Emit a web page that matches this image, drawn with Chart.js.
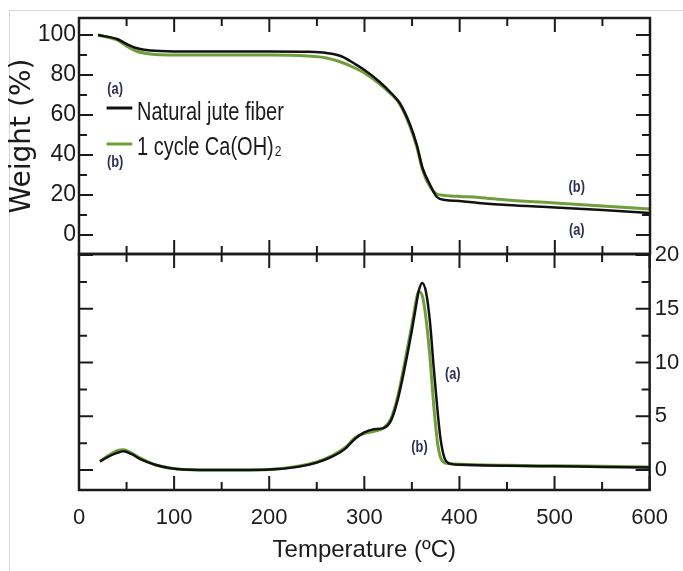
<!DOCTYPE html>
<html>
<head>
<meta charset="utf-8">
<title>TG / DTG of jute fiber</title>
<script src="https://cdn.jsdelivr.net/npm/chart.js@4.4.1/dist/chart.umd.min.js"></script>
<style>
  html, body { margin: 0; padding: 0; background: #fff; }
  #wrap { position: relative; width: 683px; height: 571px; overflow: hidden; }
  #wrap canvas { position: absolute; left: 0; top: 0; }
  #frame { position: absolute; left: 9px; top: 10px; right: 0; bottom: 0;
           border-left: 1px solid #d6d6d6; border-top: 1px solid #d6d6d6; }
</style>
</head>
<body>
<div id="wrap">
  <div id="frame"></div>
  <canvas id="tgChart" width="683" height="571"></canvas>
  <canvas id="dtgChart" width="683" height="571"></canvas>
</div>
<script>
// ── data ─────────────────────────────────────
const seriesNames = ['Natural jute fiber', '1 cycle Ca(OH)₂'];

// TG (weight %)
const tgTemp = [20, 40, 50, 60, 75, 100, 150, 200, 240, 260, 275, 290, 300, 316, 330, 337, 348, 355, 361, 369, 376, 385, 400, 420, 450, 500, 550, 600];
const tgJute = [100, 98, 95.5, 93.5, 92.2, 91.8, 91.8, 91.8, 91.6, 91, 89.5, 85.5, 82.5, 76.5, 70, 66, 55, 45, 33.5, 25, 19, 17.5, 17, 16, 15, 13.8, 12.5, 11];
const tgCa   = [100, 97.5, 94.5, 92, 90.5, 90, 90, 90, 89.5, 88.5, 86.5, 83.5, 81, 75.5, 69.5, 65.5, 54, 44, 32.5, 24, 20.5, 19.8, 19.3, 18.8, 17.5, 16, 14.5, 13];

// DTG
const dtgTemp = [22, 30, 40, 47, 55, 65, 80, 95, 110, 150, 200, 230, 250, 265, 280, 290, 300, 310, 320, 328, 335, 342, 350, 355, 357, 361, 365, 369, 373, 377, 380, 384, 390, 400, 450, 500, 550, 600];
const dtgJute = [0.8, 1.2, 1.6, 1.75, 1.5, 1.0, 0.5, 0.2, 0.05, 0, 0.05, 0.3, 0.7, 1.2, 2.0, 2.9, 3.5, 3.8, 3.9, 4.6, 6.5, 9.3, 13, 15.6, 16.6, 17.4, 16.5, 13.8, 9.5, 5.5, 3, 1.2, 0.6, 0.5, 0.4, 0.35, 0.3, 0.25];
const dtgCa   = [0.8, 1.3, 1.8, 1.9, 1.6, 1.1, 0.5, 0.2, 0.05, 0, 0.05, 0.35, 0.75, 1.3, 2.1, 3.0, 3.4, 3.6, 3.9, 4.8, 6.8, 9.8, 13.5, 16, 16.6, 16.2, 14, 10.5, 6, 2.5, 1.2, 0.7, 0.6, 0.55, 0.45, 0.4, 0.35, 0.3];

// axis ticks
const xMajor = [0, 100, 200, 300, 400, 500, 600];
const xMinor = [50, 150, 250, 350, 450, 550];
const wtMajor = [0, 20, 40, 60, 80, 100];
const wtMinor = [10, 30, 50, 70, 90];
const dtgMajor = [0, 5, 10, 15, 20];
const dtgMinor = [2.5, 7.5, 12.5, 17.5];

// ── styles ───────────────────────────────────
const SANS = "'Liberation Sans', Arial, sans-serif";
const INK = '#1b1b1b';
const BLACK = '#111111';
const GREEN = '#6f9f3a';
const NOTE = '#2d2f55';
const SQUEEZE = 0.8;   // the figure's lettering is a condensed face

const pts = (xs, ys) => xs.map((x, i) => ({ x: x, y: ys[i] }));

function lineSet(label, data, color, width) {
  return {
    label: label,
    data: data,
    borderColor: color,
    backgroundColor: color,
    borderWidth: width,
    pointRadius: 0,
    fill: false,
    cubicInterpolationMode: 'monotone'
  };
}

// box + inward ticks on all four sides
function frameTicks(yMajor, yMinor) {
  return {
    id: 'frameTicks',
    afterDraw(chart) {
      const { ctx, chartArea: a, scales } = chart;
      const xs = scales.x, ys = scales.y;
      const tick = (list, len) => {
        list.forEach(v => {
          const p = xs.getPixelForValue(v);
          ctx.moveTo(p, a.bottom); ctx.lineTo(p, a.bottom - len);
          ctx.moveTo(p, a.top); ctx.lineTo(p, a.top + len);
        });
      };
      const ytick = (list, len) => {
        list.forEach(v => {
          const p = ys.getPixelForValue(v);
          ctx.moveTo(a.left, p); ctx.lineTo(a.left + len, p);
          ctx.moveTo(a.right, p); ctx.lineTo(a.right - len, p);
        });
      };
      ctx.save();
      ctx.strokeStyle = INK;
      ctx.lineWidth = 2;
      ctx.beginPath();
      tick(xMajor, 14); tick(xMinor, 8);
      ytick(yMajor, 14); ytick(yMinor, 8);
      ctx.stroke();
      ctx.lineWidth = 2.5;
      ctx.strokeRect(a.left, a.top, a.width, a.height);
      ctx.restore();
    }
  };
}

// condensed text, x is the anchor given by ctx.textAlign
function narrowText(ctx, text, x, y) {
  ctx.save();
  ctx.translate(x, y);
  ctx.scale(SQUEEZE, 1);
  ctx.fillText(text, 0, 0);
  ctx.restore();
}

function notes(ctx, x, y, list) {
  ctx.save();
  ctx.fillStyle = NOTE;
  ctx.textAlign = 'center';
  ctx.textBaseline = 'middle';
  ctx.font = 'bold 16px ' + SANS;
  list.forEach(n => narrowText(ctx, n[0], x.getPixelForValue(n[1]), y.getPixelForValue(n[2])));
  ctx.restore();
}

// legend + (a)/(b) labels of the TG panel
const tgNotes = {
  id: 'tgNotes',
  afterDraw(chart) {
    const { ctx, scales: { x, y } } = chart;
    ctx.save();
    // legend samples
    ctx.lineWidth = 3;
    ctx.strokeStyle = BLACK;
    ctx.beginPath(); ctx.moveTo(x.getPixelForValue(29), y.getPixelForValue(63.5)); ctx.lineTo(x.getPixelForValue(56), y.getPixelForValue(63.5)); ctx.stroke();
    ctx.strokeStyle = GREEN;
    ctx.beginPath(); ctx.moveTo(x.getPixelForValue(29), y.getPixelForValue(45.5)); ctx.lineTo(x.getPixelForValue(56), y.getPixelForValue(45.5)); ctx.stroke();
    // legend text
    ctx.fillStyle = INK;
    ctx.textBaseline = 'alphabetic';
    ctx.textAlign = 'left';
    ctx.font = '25px ' + SANS;
    const tx = x.getPixelForValue(61);
    narrowText(ctx, seriesNames[0], tx, y.getPixelForValue(62) + 9);
    const parts = seriesNames[1].split('₂');
    const by = y.getPixelForValue(44.5) + 9;
    narrowText(ctx, parts[0], tx, by);
    const w = ctx.measureText(parts[0]).width * SQUEEZE;
    ctx.font = '15px ' + SANS;
    narrowText(ctx, '2', tx + w + 1, by + 1);
    ctx.restore();
    notes(ctx, x, y, [['(a)', 38, 72.5], ['(b)', 38, 36], ['(b)', 523, 23.5], ['(a)', 523, 2]]);
  }
};

const dtgNotes = {
  id: 'dtgNotes',
  afterDraw(chart) {
    const { ctx, scales: { x, y } } = chart;
    notes(ctx, x, y, [['(a)', 393, 8.9], ['(b)', 358, 2.05]]);
  }
};

// ── TG panel (top) ───────────────────────────
new Chart(document.getElementById('tgChart'), {
  type: 'line',
  data: {
    datasets: [
      lineSet(seriesNames[0], pts(tgTemp, tgJute), BLACK, 2.5),
      lineSet(seriesNames[1], pts(tgTemp, tgCa), GREEN, 3)
    ]
  },
  options: {
    responsive: false,
    animation: false,
    layout: { padding: { left: 0, top: 18, right: 33, bottom: 317 } },
    plugins: { legend: { display: false }, tooltip: { enabled: false } },
    scales: {
      x: { type: 'linear', min: 0, max: 600, display: false },
      y: {
        min: -9.5, max: 108.5,
        afterBuildTicks: s => { s.ticks = wtMajor.map(v => ({ value: v })); },
        afterFit: s => { s.width = 79; },
        grid: { display: false, drawTicks: false },
        border: { display: false },
        ticks: { padding: 3, color: INK, font: { family: SANS, size: 23 } },
        title: {
          display: true, text: 'Weight (%)', color: INK,
          font: { family: "'DejaVu Sans', sans-serif", size: 28 },
          padding: { top: 6, bottom: 0 }
        }
      }
    }
  },
  plugins: [frameTicks(wtMajor, wtMinor), tgNotes]
});

// ── DTG panel (bottom) ───────────────────────
new Chart(document.getElementById('dtgChart'), {
  type: 'line',
  data: {
    datasets: [
      lineSet(seriesNames[0], pts(dtgTemp, dtgJute), BLACK, 2.5),
      lineSet(seriesNames[1], pts(dtgTemp, dtgCa), GREEN, 3)
    ]
  },
  options: {
    responsive: false,
    animation: false,
    layout: { padding: { left: 79, top: 254, right: 0, bottom: 0 } },
    plugins: { legend: { display: false }, tooltip: { enabled: false } },
    scales: {
      x: {
        type: 'linear', min: 0, max: 600,
        afterBuildTicks: s => { s.ticks = xMajor.map(v => ({ value: v })); },
        afterFit: s => { s.height = 81; },
        grid: { display: false, drawTicks: false },
        border: { display: false },
        ticks: { padding: 15, color: INK, maxRotation: 0, font: { family: SANS, size: 22 } },
        title: {
          display: true, text: 'Temperature (ºC)', color: INK,
          font: { family: SANS, size: 24 },
          padding: { top: 0, bottom: 6 }
        }
      },
      y: {
        position: 'right',
        min: -1.85, max: 20.1,
        afterBuildTicks: s => { s.ticks = dtgMajor.map(v => ({ value: v })); },
        afterFit: s => { s.width = 33; },
        grid: { display: false, drawTicks: false },
        border: { display: false },
        ticks: { padding: 5, color: INK, font: { family: SANS, size: 22 } }
      }
    }
  },
  plugins: [frameTicks(dtgMajor, dtgMinor), dtgNotes]
});
</script>
</body>
</html>
